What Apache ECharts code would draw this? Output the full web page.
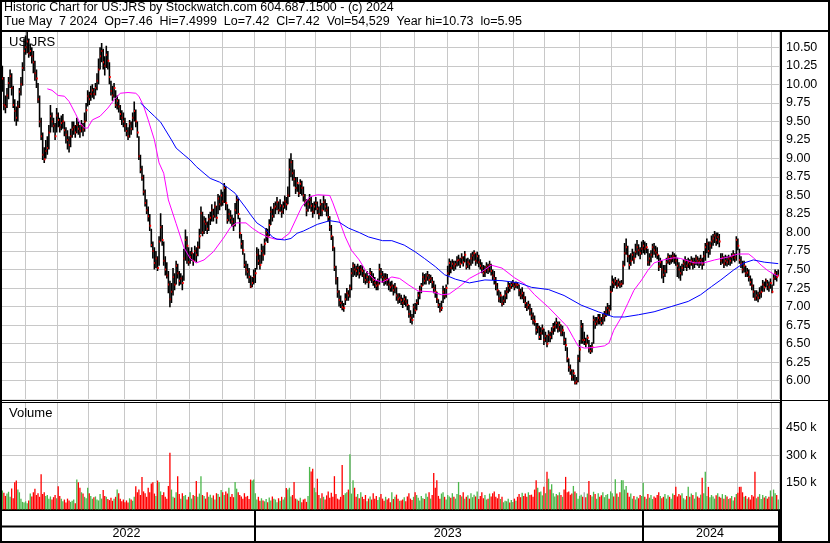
<!DOCTYPE html>
<html><head><meta charset="utf-8">
<script src="https://cdn.jsdelivr.net/npm/echarts@6/dist/echarts.min.js"></script>
<style>html,body{margin:0;padding:0;background:#fff}#c{width:830px;height:543px}</style>
</head><body><div id="c"></div>
<script>
// ---------- texts ----------
const titleLine1 = "Historic Chart for US:JRS by Stockwatch.com 604.687.1500 - (c) 2024";
const titleLine2 = "Tue May  7 2024  Op=7.46  Hi=7.4999  Lo=7.42  Cl=7.42  Vol=54,529  Year hi=10.73  lo=5.95";
const symbolLabel = "US:JRS";
const volumeLabel = "Volume";

// ---------- calendar (trading days, US market) ----------
const firstDay = "2022-05-09";
const lastDay = "2024-05-07";
const holidays = ["2022-05-30","2022-06-20","2022-07-04","2022-09-05","2022-11-24","2022-12-26",
  "2023-01-02","2023-01-16","2023-02-20","2023-04-07","2023-05-29","2023-06-19","2023-07-04","2023-09-04","2023-11-23","2023-12-25",
  "2024-01-01","2024-01-15","2024-02-19","2024-03-29"];

// ---------- daily prices ----------
const closes = [
/*0*/ 9.95,10.08,9.72,9.70,9.85,10.02,10.11,9.95,9.72,9.64,9.55,9.70,9.90,10.00,10.22,10.45,
/*16*/ 10.50,10.58,10.42,10.45,10.38,10.30,10.15,10.08,
/*24*/ 9.80,9.50,9.30,9.05,8.99,9.10,9.14,
/*31*/ 9.35,9.57,9.50,9.44,9.30,9.58,9.52,9.42,9.48,9.50,9.38,9.32,9.25,9.18,9.30,9.39,9.42,9.35,9.45,9.40,9.37,9.44,9.39,9.50,
/*55*/ 9.65,9.84,9.80,9.87,9.92,9.87,9.95,10.05,
/*63*/ 10.20,10.38,10.45,10.30,10.25,10.40,10.32,10.10,
/*71*/ 9.91,9.85,9.95,9.72,9.78,9.70,9.60,9.55,
/*79*/ 9.50,9.44,9.37,9.30,9.47,9.40,9.55,9.64,9.50,9.35,
/*89*/ 9.03,8.85,8.74,8.55,8.40,8.30,8.22,8.09,7.83,7.75,7.59,7.65,7.52,7.88,
/*103*/ 8.07,7.90,7.62,7.50,7.42,7.30,7.10,7.20,7.40,7.30,7.55,7.45,7.35,7.38,7.32,
/*118*/ 7.65,7.90,7.82,7.60,7.67,7.72,7.62,7.75,7.70,7.80,7.95,
/*129*/ 8.26,8.00,8.15,8.12,8.05,8.18,8.20,8.30,8.22,8.35,8.20,8.46,8.38,8.50,8.42,8.60,8.40,8.17,8.25,8.20,8.15,8.10,8.30,8.44,8.25,7.99,7.85,
/*156*/ 7.76,7.56,7.50,7.47,7.40,7.27,7.32,7.40,
/*164*/ 7.45,7.70,7.62,7.56,7.75,7.70,7.85,8.00,7.95,8.10,8.28,8.22,8.33,8.35,8.41,8.30,8.36,8.28,8.35,8.42,8.38,8.50,8.85,8.95,8.80,8.72,8.60,8.67,8.53,8.66,8.60,8.50,8.42,8.30,8.38,8.44,8.36,8.28,8.35,8.40,8.32,8.25,8.38,8.30,8.41,8.35,8.30,8.21,8.07,7.95,7.80,7.53,7.38,7.20,
/*218*/ 7.09,7.05,6.99,6.98, 7.10,7.18,7.15,7.25, 7.45,7.55,7.50,7.48, 7.52,7.45,7.50,7.48,7.42, 7.36,7.40,7.33,7.45,7.40,7.36, 7.32,7.28,7.30, 7.50,7.44,7.40,7.36,7.38, 7.36,7.30,7.26,7.28, 7.22,7.26,7.15,7.10,
/*257*/ 7.12,7.09,7.05,7.10,7.07,7.02, 6.90,6.85,6.82, 6.99,6.95,7.05, 7.15,7.22,7.28, 7.40,7.35,7.38,7.42,7.36,7.38, 7.33,7.25,7.20, 7.10,7.02,6.95,6.98, 7.20,7.15,7.25,
/*288*/ 7.45,7.59,7.52,7.58, 7.55,7.57,7.62, 7.63,7.58,7.66,7.60,7.70, 7.54,7.60,7.58,
/*303*/ 7.65,7.69,7.72,7.62,7.68,7.60,7.55, 7.52,7.45,7.48, 7.54,7.50,7.56,7.48,7.42, 7.38,7.30,7.22, 7.11,7.15,7.04,7.08, 7.15,7.20,7.28,7.25, 7.29,7.32,7.27,7.30,7.29,
/*334*/ 7.22,7.15,7.18,7.12, 7.05,6.99,7.02,6.95, 6.88,6.82,6.80, 6.68,6.72,6.59, 6.64,6.70,6.55,6.60,6.50, 6.62,6.59,6.66,6.72, 6.73,6.78,6.70,6.75,6.65,6.68,
/*363*/ 6.55,6.48, 6.30,6.18,6.14, 6.05,6.10,5.97,5.99, 6.30,6.42, 6.73,6.55, 6.55,6.50,6.58, 6.44,6.40,6.45, 6.82,6.77,6.80,6.85, 6.82,6.78,6.85,6.88, 6.93,6.98,6.95,
/*393*/ 7.20,7.33, 7.31,7.35,7.28,7.33,7.30,7.31, 7.55,7.72,7.80, 7.68,7.56,7.62,7.70,7.65, 7.74,7.80,7.76,7.72,7.78,
/*414*/ 7.82,7.78,7.80, 7.60,7.65,7.70, 7.80,7.76,7.73,7.70, 7.54,7.60, 7.50,7.43,7.48, 7.60,7.67,7.62,7.65,7.68,7.66,7.62, 7.55,7.50,7.45,7.52, 7.58,7.62,7.55,7.60,7.57,
/*445*/ 7.62,7.58,7.60,7.65,7.62,7.60,7.63,7.58, 7.68,7.80,7.85,7.75,7.82, 7.88,7.92,7.96,7.90,7.94,7.88, 7.62,7.66,7.58,7.62,7.60, 7.65,7.62,7.67,7.70,7.66,
/*474*/ 7.90,7.82, 7.63,7.58,7.50,7.55, 7.45,7.46,7.40,7.33, 7.28,7.20,7.11,7.15,7.12,7.18, 7.20,7.30,7.26,7.35, 7.30,7.26,7.32,7.20, 7.38,7.45,7.40,7.42
];

const highs = [
/*0*/ 10.05,10.25,10.10,9.85,9.95,10.10,10.20,10.15,9.98,9.80,9.70,9.78,9.95,10.10,10.30,10.62,
/*16*/ 10.66,10.72,10.62,10.55,10.50,10.45,10.32,10.20,
/*24*/ 10.02,9.85,9.55,9.35,9.15,9.25,9.30,
/*31*/ 9.45,9.72,9.62,9.55,9.48,9.68,9.62,9.55,9.58,9.60,9.50,9.42,9.38,9.30,9.40,9.50,9.50,9.45,9.55,9.50,9.45,9.52,9.48,9.62,
/*55*/ 9.75,9.92,9.90,9.98,10.00,9.95,10.02,10.15,
/*63*/ 10.35,10.50,10.56,10.48,10.38,10.52,10.45,10.30,
/*71*/ 10.05,9.98,10.02,9.92,9.85,9.80,9.72,9.65,
/*79*/ 9.62,9.55,9.48,9.42,9.52,9.50,9.62,9.77,9.66,9.50,
/*89*/ 9.30,9.05,8.90,8.78,8.58,8.45,8.35,8.25,8.05,7.88,7.80,7.75,7.68,7.95,
/*103*/ 8.26,8.10,7.88,7.68,7.60,7.48,7.35,7.32,7.52,7.45,7.62,7.58,7.48,7.45,7.42,
/*118*/ 7.78,8.04,7.95,7.80,7.75,7.80,7.72,7.82,7.80,7.88,8.05,
/*129*/ 8.35,8.28,8.22,8.20,8.15,8.25,8.28,8.38,8.32,8.42,8.36,8.52,8.50,8.58,8.55,8.67,8.62,8.38,8.32,8.30,8.24,8.20,8.40,8.50,8.46,8.20,7.98,
/*156*/ 7.90,7.72,7.62,7.58,7.52,7.42,7.40,7.50,
/*164*/ 7.52,7.80,7.78,7.70,7.85,7.82,7.92,8.06,8.05,8.18,8.35,8.32,8.40,8.42,8.48,8.42,8.45,8.38,8.42,8.50,8.48,8.62,9.00,9.07,8.98,8.85,8.75,8.75,8.65,8.72,8.70,8.62,8.52,8.45,8.45,8.52,8.48,8.40,8.42,8.48,8.42,8.35,8.45,8.40,8.50,8.45,8.40,8.35,8.22,8.10,7.95,7.80,7.55,7.40,
/*218*/ 7.22,7.15,7.08,7.05, 7.18,7.25,7.22,7.30, 7.52,7.60,7.58,7.55, 7.58,7.55,7.56,7.55,7.50, 7.45,7.48,7.42,7.52,7.48,7.45, 7.40,7.36,7.38, 7.58,7.52,7.48,7.45,7.45, 7.44,7.38,7.34,7.35, 7.30,7.32,7.26,7.18,
/*257*/ 7.18,7.16,7.12,7.16,7.14,7.10, 7.02,6.95,6.90, 7.04,7.05,7.10, 7.20,7.28,7.32, 7.46,7.44,7.45,7.48,7.44,7.43, 7.40,7.35,7.30, 7.20,7.10,7.05,7.08, 7.28,7.25,7.30,
/*288*/ 7.55,7.65,7.62,7.64, 7.62,7.62,7.68, 7.70,7.66,7.72,7.68,7.75, 7.65,7.66,7.64,
/*303*/ 7.72,7.74,7.76,7.72,7.74,7.70,7.64, 7.60,7.56,7.55, 7.60,7.58,7.62,7.58,7.50, 7.48,7.40,7.32, 7.22,7.20,7.14,7.15, 7.22,7.26,7.34,7.32, 7.34,7.36,7.33,7.34,7.33,
/*334*/ 7.30,7.24,7.26,7.20, 7.14,7.06,7.08,7.04, 6.98,6.92,6.88, 6.78,6.78,6.74, 6.72,6.76,6.70,6.66,6.62, 6.68,6.66,6.72,6.78, 6.80,6.85,6.80,6.80,6.76,6.74,
/*363*/ 6.66,6.58, 6.45,6.30,6.22, 6.15,6.15,6.08,6.05, 6.35,6.55, 6.82,6.78, 6.66,6.58,6.62, 6.55,6.48,6.52, 6.88,6.86,6.86,6.90, 6.90,6.86,6.90,6.94, 7.00,7.05,7.02,
/*393*/ 7.28,7.42, 7.38,7.40,7.36,7.38,7.35,7.36, 7.62,7.86,7.92, 7.82,7.70,7.72,7.78,7.74, 7.85,7.90,7.84,7.80,7.88,
/*414*/ 7.90,7.88,7.86, 7.78,7.72,7.76, 7.85,7.86,7.82,7.80, 7.70,7.66, 7.62,7.56,7.56, 7.66,7.72,7.70,7.70,7.74,7.72,7.70, 7.66,7.60,7.55,7.58, 7.64,7.68,7.64,7.66,7.64,
/*445*/ 7.68,7.66,7.66,7.70,7.68,7.66,7.70,7.66, 7.75,7.86,7.92,7.88,7.88, 7.96,7.98,8.02,8.00,8.00,7.98, 7.72,7.72,7.68,7.70,7.68, 7.70,7.68,7.72,7.76,7.72,
/*474*/ 7.95,7.92, 7.78,7.68,7.62,7.62, 7.55,7.52,7.50,7.42, 7.38,7.30,7.22,7.22,7.20,7.26, 7.28,7.36,7.34,7.38, 7.36,7.34,7.38,7.30, 7.44,7.50,7.48,7.50
];

const lows = [
/*0*/ 9.80,9.90,9.65,9.61,9.68,9.80,9.95,9.85,9.68,9.50,9.44,9.50,9.68,9.85,9.98,10.18,
/*16*/ 10.40,10.42,10.36,10.38,10.28,10.15,10.05,9.95,
/*24*/ 9.75,9.42,9.25,8.98,8.94,9.00,9.05,
/*31*/ 9.12,9.35,9.42,9.35,9.25,9.35,9.42,9.35,9.38,9.40,9.30,9.20,9.12,9.08,9.15,9.28,9.32,9.28,9.34,9.32,9.28,9.35,9.30,9.36,
/*55*/ 9.50,9.70,9.72,9.78,9.82,9.80,9.85,9.92,
/*63*/ 10.00,10.20,10.30,10.20,10.12,10.22,10.20,10.00,
/*71*/ 9.85,9.78,9.82,9.68,9.66,9.62,9.52,9.45,
/*79*/ 9.42,9.36,9.30,9.25,9.28,9.32,9.38,9.50,9.42,9.28,
/*89*/ 8.98,8.80,8.70,8.50,8.35,8.25,8.15,8.02,7.80,7.65,7.50,7.52,7.48,7.55,
/*103*/ 7.88,7.82,7.55,7.42,7.38,7.18,6.99,7.05,7.15,7.22,7.30,7.38,7.28,7.30,7.22,
/*118*/ 7.35,7.62,7.58,7.55,7.58,7.62,7.55,7.62,7.60,7.68,7.78,
/*129*/ 7.98,7.95,7.98,8.02,7.98,8.02,8.10,8.15,8.15,8.20,8.12,8.25,8.30,8.35,8.36,8.40,8.30,8.12,8.15,8.12,8.08,8.02,8.08,8.25,8.18,7.92,7.78,
/*156*/ 7.70,7.52,7.42,7.38,7.32,7.25,7.26,7.30,
/*164*/ 7.32,7.50,7.56,7.50,7.58,7.62,7.70,7.88,7.86,7.95,8.10,8.15,8.20,8.25,8.30,8.25,8.28,8.20,8.25,8.32,8.30,8.38,8.48,8.75,8.70,8.62,8.52,8.55,8.48,8.52,8.50,8.42,8.35,8.22,8.28,8.32,8.28,8.20,8.25,8.30,8.25,8.18,8.22,8.22,8.30,8.28,8.22,8.15,8.02,7.90,7.75,7.48,7.30,7.12,
/*218*/ 7.00,6.98,6.95,6.93, 7.02,7.08,7.08,7.12, 7.22,7.40,7.42,7.40, 7.42,7.38,7.42,7.40,7.32, 7.30,7.32,7.25,7.35,7.32,7.28, 7.25,7.22,7.22, 7.30,7.38,7.32,7.28,7.30, 7.28,7.22,7.20,7.20, 7.15,7.18,7.08,7.04,
/*257*/ 7.05,7.02,6.98,7.02,7.00,6.95, 6.85,6.78,6.76, 6.85,6.90,6.95, 7.02,7.10,7.18, 7.28,7.30,7.30,7.35,7.30,7.32, 7.25,7.18,7.12, 7.05,6.98,6.92,6.94, 7.05,7.10,7.12,
/*288*/ 7.30,7.42,7.45,7.50, 7.48,7.50,7.54, 7.55,7.52,7.58,7.54,7.60, 7.50,7.52,7.50,
/*303*/ 7.55,7.58,7.62,7.55,7.58,7.53,7.50, 7.45,7.40,7.40, 7.45,7.44,7.46,7.42,7.36, 7.30,7.22,7.15, 7.06,7.05,7.00,7.02, 7.05,7.10,7.18,7.20, 7.24,7.26,7.22,7.25,7.24,
/*334*/ 7.14,7.10,7.10,7.05, 6.98,6.94,6.96,6.88, 6.82,6.76,6.74, 6.62,6.64,6.55, 6.55,6.62,6.48,6.52,6.45, 6.52,6.52,6.56,6.62, 6.66,6.70,6.65,6.66,6.60,6.60,
/*363*/ 6.48,6.40, 6.25,6.12,6.08, 6.00,6.00,5.95,5.95, 5.98,6.25, 6.50,6.50, 6.48,6.45,6.50, 6.38,6.36,6.38, 6.50,6.70,6.74,6.76, 6.76,6.74,6.76,6.80, 6.86,6.88,6.88,
/*393*/ 6.95,7.20, 7.25,7.28,7.24,7.27,7.25,7.26, 7.30,7.55,7.70, 7.60,7.50,7.55,7.62,7.58, 7.66,7.70,7.68,7.64,7.70,
/*414*/ 7.72,7.70,7.72, 7.55,7.55,7.60, 7.66,7.70,7.66,7.64, 7.48,7.52, 7.38,7.32,7.40, 7.45,7.58,7.56,7.58,7.60,7.58,7.55, 7.40,7.38,7.35,7.42, 7.48,7.52,7.48,7.52,7.50,
/*445*/ 7.55,7.50,7.52,7.56,7.55,7.52,7.55,7.50, 7.55,7.62,7.72,7.66,7.70, 7.78,7.82,7.86,7.82,7.84,7.80, 7.56,7.58,7.52,7.55,7.54, 7.56,7.55,7.58,7.62,7.60,
/*474*/ 7.62,7.76, 7.58,7.52,7.45,7.46, 7.40,7.40,7.34,7.28, 7.22,7.12,7.08,7.08,7.06,7.10, 7.12,7.20,7.20,7.26, 7.22,7.20,7.24,7.18, 7.28,7.36,7.34,7.42
];

// daily volume, thousands of shares
const volumesK = [
/*0*/ 208,105,92,75,88,98,70,116,62,150, 160,110,95,60,42,38,45,35,50,88,
/*20*/ 72,95,115,80,90,70,195,85,95,75, 80,60,72,55,68,80,62,129,75,60,
/*40*/ 45,55,38,60,50,42,48,55,35,165, 150,120,95,88,70,62,120,90,75,60,
/*60*/ 68,72,55,50,85,60,107,75,70,58, 52,65,48,60,70,110,90,60,45,55,
/*80*/ 40,50,38,62,55,48,70,129,95,110, 80,180,100,90,70,120,95,143,150,88,
/*100*/ 75,160,152,100,80,95,70,60,130,313, 110,70,65,95,184,85,60,90,75,80,
/*120*/ 55,70,95,60,80,75,158,70,88,184, 80,75,60,95,70,82,65,78,55,90,
/*140*/ 85,70,107,95,80,100,88,120,70,85, 68,152,115,95,80,72,60,90,70,75,
/*160*/ 58,165,160,165,90,55,70,48,62,50, 45,58,40,66,50,72,60,55,40,62,
/*180*/ 48,70,55,68,118,110,120,72,80,152, 60,55,48,65,40,55,60,42,75,235,
/*200*/ 210,225,120,95,170,80,62,90,70,55, 78,100,65,92,70,184,85,60,55,70,
/*220*/ 245,80,90,95,110,305,88,162,120,70, 85,62,95,70,58,80,45,60,72,55,
/*240*/ 90,60,75,52,68,85,60,48,70,55, 62,40,95,58,70,82,60,48,50,55,
/*260*/ 68,45,72,90,60,52,70,95,80,65, 50,75,62,58,88,70,95,60,80,202,
/*280*/ 120,162,75,60,88,95,70,55,80,72, 65,90,70,60,85,152,80,72,95,60,
/*300*/ 70,78,60,90,68,82,72,100,58,75, 95,62,80,55,60,88,72,90,100,70,
/*320*/ 62,85,58,70,40,48,45,60,38,52, 42,60,48,70,85,68,92,75,88,70,
/*340*/ 95,80,82,70,110,162,120,95,100,78, 125,90,208,170,110,140,90,72,85,78,
/*360*/ 95,80,70,110,180,95,100,82,88,130, 100,90,60,75,82,70,95,68,88,158,
/*380*/ 80,72,98,86,60,90,70,78,95,68, 80,85,60,100,90,72,167,88,70,95,
/*400*/ 162,162,110,130,92,70,88,60,75,55, 70,62,80,75,147,70,60,85,65,80,
/*420*/ 58,72,65,80,95,75,62,70,85,60, 78,70,60,88,80,125,72,85,78,90,
/*440*/ 62,55,75,125,70,88,80,60,95,72, 65,82,175,90,208,75,125,68,80,72,
/*460*/ 60,78,90,70,65,85,60,80,72,58, 62,75,50,68,85,92,125,125,95,70,
/*480*/ 75,60,68,55,80,72,208,62,70,85, 58,80,66,75,60,70,105,72,110,90,
/*500*/ 80,55
];

// moving averages (trading-day index, price)
const maShortDays = [30,33,37,41,44,48,51,54,56,59,64,69,73,77,82,87,89,92,95,99,102,105,108,113,118,122,126,131,137,144,148,152,158,162,167,172,177,181,186,190,194,199,204,212,214,218,222,226,231,235,241,246,252,257,263,269,278,284,289,295,302,310,316,323,331,338,344,353,359,365,369,372,376,383,389,392,395,400,404,408,413,417,421,427,434,438,447,453,460,469,475,482,485,490,494,498,501];
const maShortValues = [9.94,9.92,9.85,9.84,9.77,9.61,9.48,9.41,9.41,9.52,9.57,9.68,9.79,9.88,9.89,9.88,9.84,9.71,9.52,9.25,8.94,8.80,8.44,8.12,7.80,7.65,7.59,7.63,7.74,7.94,8.07,8.13,8.13,8.06,7.99,7.94,7.91,7.91,7.99,8.17,8.35,8.48,8.51,8.50,8.40,8.17,7.94,7.76,7.63,7.49,7.36,7.33,7.40,7.38,7.29,7.21,7.20,7.16,7.17,7.26,7.38,7.47,7.56,7.52,7.39,7.30,7.16,6.99,6.86,6.73,6.58,6.47,6.44,6.45,6.47,6.51,6.68,6.86,7.04,7.22,7.36,7.49,7.59,7.63,7.66,7.65,7.59,7.59,7.63,7.67,7.71,7.71,7.66,7.56,7.49,7.44,7.41];
const maLongDays = [90,95,99,103,110,113,118,122,126,131,135,141,146,151,154,158,161,165,170,175,178,183,187,191,195,199,204,212,218,224,231,237,246,252,260,267,273,280,286,293,302,312,323,334,342,353,363,374,385,395,402,411,421,432,443,451,458,464,472,479,485,492,501];
const maLongValues = [9.75,9.65,9.57,9.49,9.25,9.14,9.05,8.98,8.89,8.80,8.73,8.68,8.61,8.53,8.44,8.33,8.24,8.13,8.06,7.94,7.91,7.90,7.92,7.99,8.02,8.06,8.11,8.16,8.14,8.06,8.00,7.94,7.89,7.89,7.83,7.74,7.65,7.54,7.43,7.37,7.32,7.36,7.35,7.32,7.26,7.23,7.15,7.02,6.93,6.86,6.86,6.89,6.93,7.00,7.07,7.16,7.27,7.36,7.49,7.59,7.63,7.60,7.58];

// price & volume axis ticks
const priceMin = 5.75, priceMax = 10.75, priceStep = 0.25;
const volMin = 0, volMax = 600, volStep = 150;

// ---------- build ----------
function tradingDays() {
  const out = [];
  const p = s => { const a = s.split('-').map(Number); return Date.UTC(a[0], a[1]-1, a[2]); };
  let t = p(firstDay); const end = p(lastDay);
  while (t <= end) {
    const d = new Date(t); const wd = d.getUTCDay(); const s = d.toISOString().slice(0,10);
    if (wd !== 0 && wd !== 6 && holidays.indexOf(s) < 0) out.push(s);
    t += 86400000;
  }
  return out;
}
const dates = tradingDays();
const N = dates.length;
const monthStart = dates.map((d,i) => i > 0 && d.slice(0,7) !== dates[i-1].slice(0,7));
const yearStart = dates.map((d,i) => i > 0 && d.slice(0,4) !== dates[i-1].slice(0,4));
const yearMid = dates.map(() => false);
(function(){ let s = 0; for (let i = 1; i <= N; i++) { if (i === N || dates[i].slice(0,4) !== dates[i-1].slice(0,4)) { yearMid[Math.floor((s + i - 1)/2)] = true; s = i; } } })();

const RED = '#ff0000', GREEN = '#4cb84c', GREY = '#a8a8a8';
const ohlc = closes.map((c,i) => [i, highs[i], lows[i], c]);
const volData = volumesK.map((v,i) => ({ value: v, itemStyle: { color: i === 0 ? RED : (closes[i] > closes[i-1] ? GREEN : (closes[i] < closes[i-1] ? RED : GREY)) } }));
const maShort = maShortDays.map((d,i) => [d, maShortValues[i]]);
const maLong = maLongDays.map((d,i) => [d, maLongValues[i]]);

const FONT = '"Liberation Sans", Arial, sans-serif';
const GRIDC = '#c8c8c8';
const chart = echarts.init(document.getElementById('c'), null, { renderer: 'canvas' });

chart.setOption({
  animation: false,
  backgroundColor: '#ffffff',
  grid: [
    { left: -0.5, right: 51, top: 28.8, height: 370.4 },
    { left: -0.5, right: 51, top: 400.8, height: 108.7 }
  ],
  xAxis: [
    { type: 'category', gridIndex: 0, data: dates, boundaryGap: true,
      axisLine: { show: false }, axisTick: { show: false }, axisLabel: { show: false },
      splitLine: { show: true, interval: i => monthStart[i], lineStyle: { color: GRIDC, width: 1 } } },
    { type: 'category', gridIndex: 1, data: dates, boundaryGap: true,
      axisLine: { show: true, lineStyle: { color: '#000', width: 2 } },
      axisTick: { show: true, interval: i => yearStart[i], length: 34, lineStyle: { color: '#000', width: 2 } },
      axisLabel: { show: true, interval: i => yearMid[i], formatter: v => v.slice(0,4), margin: 18,
        color: '#000', fontSize: 12.5, fontFamily: FONT },
      splitLine: { show: true, interval: i => monthStart[i], lineStyle: { color: GRIDC, width: 1 } } }
  ],
  yAxis: [
    { type: 'value', gridIndex: 0, position: 'right', min: priceMin, max: priceMax, interval: priceStep,
      axisLine: { show: false }, axisTick: { show: false },
      axisLabel: { formatter: v => v.toFixed(2), showMinLabel: false, showMaxLabel: false, margin: 7,
        color: '#000', fontSize: 12.5, fontFamily: FONT },
      splitLine: { show: true, lineStyle: { color: GRIDC, width: 1 } } },
    { type: 'value', gridIndex: 1, position: 'right', min: volMin, max: volMax, interval: volStep,
      axisLine: { show: false }, axisTick: { show: false },
      axisLabel: { formatter: v => v + ' k', showMinLabel: false, showMaxLabel: false, margin: 7,
        color: '#000', fontSize: 12.5, fontFamily: FONT },
      splitLine: { show: true, lineStyle: { color: GRIDC, width: 1 } } }
  ],
  series: [
    { type: 'bar', xAxisIndex: 1, yAxisIndex: 1, data: volData, barCategoryGap: '15%', z: 2 },
    { type: 'custom', xAxisIndex: 0, yAxisIndex: 0, data: ohlc, clip: true, z: 3,
      encode: { x: 0, y: [1,2,3] },
      renderItem: function (params, api) {
        const i = api.value(0);
        const h = api.coord([i, api.value(1)]);
        const l = api.coord([i, api.value(2)]);
        const c = api.coord([i, api.value(3)]);
        return { type: 'group', children: [
          { type: 'rect', shape: { x: h[0] - 0.8, y: h[1], width: 1.6, height: Math.max(1, l[1] - h[1]) }, style: { fill: '#000' } },
          { type: 'rect', shape: { x: c[0] - 0.2, y: c[1] - 1, width: 1.6, height: 2 }, style: { fill: RED } }
        ]};
      } },
    { type: 'line', xAxisIndex: 0, yAxisIndex: 0, data: maShort, showSymbol: false, z: 4,
      lineStyle: { color: '#ff00ff', width: 1 }, itemStyle: { color: '#ff00ff' } },
    { type: 'line', xAxisIndex: 0, yAxisIndex: 0, data: maLong, showSymbol: false, z: 4,
      lineStyle: { color: '#0000ff', width: 1 }, itemStyle: { color: '#0000ff' } }
  ],
  graphic: [
    { type: 'text', z: 1, x: 9, y: 42, style: { text: symbolLabel, font: '13px ' + FONT, fill: '#000', verticalAlign: 'middle' } },
    { type: 'text', z: 1, x: 9, y: 413, style: { text: volumeLabel, font: '13px ' + FONT, fill: '#000', verticalAlign: 'middle' } },
    { type: 'rect', z: 50, shape: { x: 0, y: 0, width: 830, height: 31 }, style: { fill: '#fff' } },
    { type: 'text', z: 51, x: 4, y: 8, style: { text: titleLine1, font: '12.5px ' + FONT, fill: '#000', verticalAlign: 'middle' } },
    { type: 'text', z: 51, x: 4, y: 22, style: { text: titleLine2, font: '12.5px ' + FONT, fill: '#000', verticalAlign: 'middle' } },
    { type: 'rect', z: 52, shape: { x: 0, y: 30, width: 830, height: 2 }, style: { fill: '#000' } },
    { type: 'rect', z: 50, shape: { x: 0, y: 399.6, width: 781, height: 3.4 }, style: { fill: '#fff' } },
    { type: 'rect', z: 52, shape: { x: 0, y: 400, width: 830, height: 1 }, style: { fill: '#000' } },
    { type: 'rect', z: 52, shape: { x: 0, y: 402, width: 781, height: 1 }, style: { fill: '#000' } },
    { type: 'rect', z: 52, shape: { x: 0, y: 525.5, width: 781, height: 2 }, style: { fill: '#000' } },
    { type: 'rect', z: 52, shape: { x: 780, y: 31, width: 2, height: 512 }, style: { fill: '#000' } },
    { type: 'rect', z: 53, shape: { x: 1, y: 1, width: 828, height: 541 }, style: { fill: null, stroke: '#000', lineWidth: 2 } }
  ]
});
</script>
</body></html>
